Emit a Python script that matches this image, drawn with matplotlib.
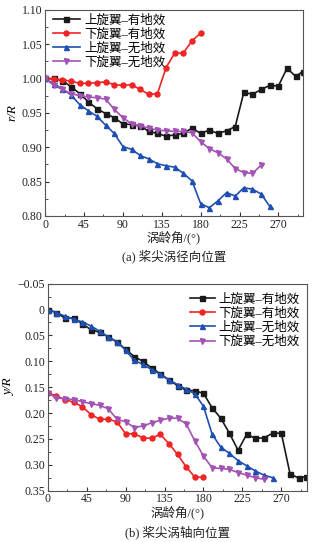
import matplotlib
matplotlib.use("Agg")
import matplotlib.pyplot as plt
from matplotlib.ticker import MultipleLocator

plt.rcParams['font.family'] = ['Liberation Serif', 'Noto Sans CJK SC']
plt.rcParams['axes.unicode_minus'] = False

# 涡龄角 (deg)
ang_up_g = [0, 10, 20, 30, 40, 50, 60, 70, 80, 90, 100, 110, 120, 130, 140, 150, 160, 170,
            180, 190, 200, 210, 220, 230, 240, 250, 260, 270, 280, 290, 298]
ang_lo_g = [0, 10, 20, 30, 40, 50, 60, 70, 80, 90, 100, 110, 120, 130, 140, 150, 160, 170, 180]
ang_up_n = [0, 10, 20, 30, 40, 50, 60, 70, 80, 90, 100, 110, 120, 130, 140, 150, 160, 170,
            180, 190, 200, 210, 220, 230, 240, 250, 260]
ang_lo_n = [0, 10, 20, 30, 40, 50, 60, 70, 80, 90, 100, 110, 120, 130, 140, 150, 160, 170,
            180, 190, 200, 210, 220, 230, 240, 250]

# (a) r/R
r_up_g = [1.000, 1.000, 0.997, 0.988, 0.978, 0.966, 0.956, 0.949, 0.943, 0.934, 0.933, 0.931,
          0.923, 0.920, 0.916, 0.918, 0.920, 0.928, 0.920, 0.925, 0.920, 0.924, 0.930, 0.980,
          0.977, 0.984, 0.990, 0.989, 1.015, 1.003, 1.010]
r_lo_g = [1.000, 0.999, 0.998, 0.996, 0.993, 0.993, 0.994, 0.995, 0.991, 0.990, 0.991, 0.984,
          0.977, 0.978, 1.016, 1.037, 1.037, 1.055, 1.066]
r_up_n = [1.000, 0.992, 0.985, 0.976, 0.962, 0.953, 0.945, 0.932, 0.920, 0.901, 0.897, 0.888,
          0.883, 0.876, 0.873, 0.871, 0.862, 0.851, 0.818, 0.812, 0.822, 0.834, 0.829, 0.841,
          0.839, 0.832, 0.814]
r_lo_n = [1.000, 0.990, 0.984, 0.978, 0.975, 0.973, 0.972, 0.970, 0.955, 0.943, 0.934, 0.931,
          0.928, 0.925, 0.924, 0.923, 0.923, 0.921, 0.908, 0.898, 0.892, 0.883, 0.869, 0.863,
          0.862, 0.874]

# (b) y/R
y_up_g = [0, 0.006, 0.017, 0.016, 0.028, 0.039, 0.044, 0.053, 0.063, 0.077, 0.091, 0.100,
          0.113, 0.124, 0.136, 0.147, 0.156, 0.157, 0.162, 0.190, 0.210, 0.239, 0.272, 0.241,
          0.249, 0.248, 0.239, 0.239, 0.317, 0.326, 0.323]
y_lo_g = [0.161, 0.167, 0.174, 0.179, 0.188, 0.203, 0.212, 0.212, 0.217, 0.240, 0.240, 0.248,
          0.249, 0.241, 0.259, 0.280, 0.304, 0.324, 0.324]
y_up_n = [0, 0.006, 0.013, 0.019, 0.024, 0.032, 0.042, 0.053, 0.062, 0.079, 0.098, 0.106,
          0.116, 0.125, 0.136, 0.145, 0.154, 0.163, 0.187, 0.241, 0.266, 0.278, 0.292, 0.302,
          0.312, 0.320, 0.325]
y_lo_n = [0.161, 0.171, 0.172, 0.174, 0.178, 0.182, 0.185, 0.192, 0.212, 0.217, 0.228, 0.225,
          0.219, 0.214, 0.210, 0.210, 0.221, 0.254, 0.283, 0.306, 0.307, 0.309, 0.315, 0.320,
          0.325, 0.328]

names = ['上旋翼–有地效', '下旋翼–有地效', '上旋翼–无地效', '下旋翼–无地效']
colors = ['#1a1a1a', '#f02424', '#1f4fb0', '#a353b3']
markers = ['s', 'o', '^', 'v']
xticks = [0, 45, 90, 135, 180, 225, 270]

fig = plt.figure(figsize=(3.25, 5.42), dpi=100)
ax1 = fig.add_axes([0.139, 0.6015, 0.792, 0.3805])
ax2 = fig.add_axes([0.147, 0.0947, 0.7985, 0.382])


def draw(ax, series, angs):
    for i, (xs, ys) in enumerate(zip(angs, series)):
        ax.plot(xs, ys, color=colors[i], marker=markers[i], markersize=3.6,
                linewidth=1.2, label=names[i])
    ax.set_xticks(xticks)
    ax.xaxis.set_minor_locator(MultipleLocator(22.5))
    ax.tick_params(which='both', direction='in', top=False, right=False,
                   labelsize=8.5, pad=2, colors='#333333', labelcolor='#222222')
    ax.tick_params(which='major', length=3)
    ax.tick_params(which='minor', length=1.8)
    for s in ax.spines.values():
        s.set_color('#555555')
        s.set_linewidth(0.8)
    ax.set_xlabel('涡龄角/(°)', fontsize=9, labelpad=0, color='#222222')


angs = [ang_up_g, ang_lo_g, ang_up_n, ang_lo_n]

draw(ax1, [r_up_g, r_lo_g, r_up_n, r_lo_n], angs)
ax1.set_xlim(0, 298)
ax1.set_ylim(0.80, 1.10)
ax1.set_yticks([0.80, 0.85, 0.90, 0.95, 1.00, 1.05, 1.10])
ax1.set_yticklabels(['0.80', '0.85', '0.90', '0.95', '1.00', '1.05', '1.10'])
ax1.yaxis.set_minor_locator(MultipleLocator(0.025))
ax1.set_ylabel('r/R', fontsize=9.5, style='italic', labelpad=2)
ax1.legend(loc='upper left', frameon=False, prop={'size': 9}, handlelength=2.2,
           handletextpad=0.3, labelspacing=0.15, borderaxespad=0.2,
           bbox_to_anchor=(0.0, 1.015))

draw(ax2, [y_up_g, y_lo_g, y_up_n, y_lo_n], angs)
ax2.set_xlim(0, 300)
ax2.set_ylim(0.35, -0.05)
ax2.set_yticks([-0.05, 0, 0.05, 0.10, 0.15, 0.20, 0.25, 0.30, 0.35])
ax2.set_yticklabels(['−0.05', '0', '0.05', '0.10', '0.15', '0.20', '0.25', '0.30', '0.35'])
ax2.yaxis.set_minor_locator(MultipleLocator(0.025))
ax2.set_ylabel('y/R', fontsize=9.5, style='italic', labelpad=2)
ax2.legend(loc='upper right', frameon=False, prop={'size': 9}, handlelength=2.0,
           handletextpad=0.3, labelspacing=0.15, borderaxespad=0.2,
           bbox_to_anchor=(1.0, 0.99))

fig.text(0.535, 0.526, '(a) 桨尖涡径向位置', ha='center', va='center', fontsize=9, color='#222222')
fig.text(0.545, 0.017, '(b) 桨尖涡轴向位置', ha='center', va='center', fontsize=9, color='#222222')

fig.savefig('out.png', dpi=100)
